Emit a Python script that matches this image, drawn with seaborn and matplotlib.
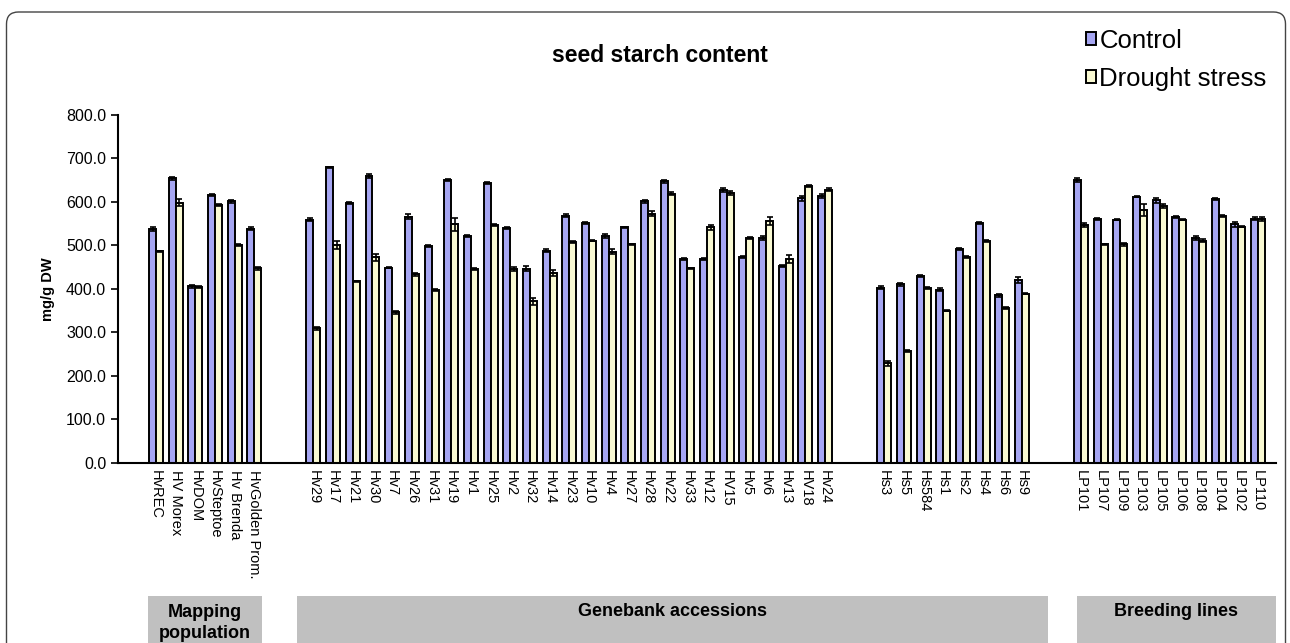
import matplotlib
matplotlib.use("Agg")
import matplotlib.pyplot as plt
import matplotlib.transforms as mtransforms
from matplotlib.patches import FancyBboxPatch, Rectangle
import numpy as np
import pandas as pd
import seaborn as sns

# --- data (mg/g DW) ---
mapping_lines = ["HvREC", "HV Morex", "HvDOM", "HvSteptoe", "Hv Brenda", "HvGolden Prom."]
mapping_control = [538, 654, 406, 616, 601, 538]
mapping_drought = [486, 598, 405, 593, 501, 447]
mapping_control_err = [4, 3, 3, 3, 4, 3]
mapping_drought_err = [2, 8, 2, 2, 2, 3]

genebank_lines = ["Hv29", "Hv17", "Hv21", "Hv30", "Hv7", "Hv26", "Hv31", "Hv19", "Hv1",
                  "Hv25", "Hv2", "Hv32", "Hv14", "Hv23", "Hv10", "Hv4", "Hv27", "Hv28",
                  "Hv22", "Hv33", "Hv12", "HV15", "Hv5", "Hv6", "Hv13", "HV18", "Hv24"]
genebank_control = [559, 679, 597, 659, 449, 566, 498, 650, 521, 643, 540, 446, 488, 568,
                    552, 522, 541, 601, 647, 468, 468, 627, 473, 517, 452, 608, 613]
genebank_drought = [309, 501, 417, 472, 346, 433, 397, 548, 445, 547, 446, 371, 436, 508,
                    511, 485, 502, 573, 619, 447, 541, 620, 517, 555, 468, 637, 628]
genebank_control_err = [3, 2, 2, 4, 2, 6, 2, 2, 2, 2, 3, 6, 3, 3,
                        2, 5, 2, 3, 4, 2, 2, 4, 2, 4, 2, 6, 4]
genebank_drought_err = [3, 10, 1, 8, 3, 3, 2, 14, 2, 2, 4, 8, 7, 3,
                        2, 6, 2, 5, 3, 2, 6, 5, 2, 9, 9, 2, 3]

hs_lines = ["Hs3", "Hs5", "Hs584", "Hs1", "Hs2", "Hs4", "Hs6", "Hs9"]
hs_control = [403, 410, 429, 398, 491, 551, 385, 421]
hs_drought = [229, 257, 402, 350, 473, 510, 356, 389]
hs_control_err = [3, 3, 2, 3, 2, 2, 3, 7]
hs_drought_err = [6, 2, 2, 2, 2, 3, 2, 2]

lp_lines = ["LP101", "LP107", "LP109", "LP103", "LP105", "LP106", "LP108", "LP104", "LP102", "LP110"]
lp_control = [650, 561, 559, 612, 603, 565, 517, 606, 548, 561]
lp_drought = [546, 502, 502, 581, 591, 559, 511, 568, 543, 560]
lp_control_err = [5, 2, 2, 2, 6, 3, 5, 2, 5, 3]
lp_drought_err = [5, 2, 4, 14, 5, 2, 4, 2, 2, 4]

treatments = ["Control", "Drought stress"]
colors = {"Control": "#9999ff", "Drought stress": "#ffffcc"}

# empty slots between the groups
order = (mapping_lines + ["_g1", "_g2"] + genebank_lines + ["_g3", "_g4"]
         + hs_lines + ["_g5", "_g6"] + lp_lines)

lines = mapping_lines + genebank_lines + hs_lines + lp_lines
control = mapping_control + genebank_control + hs_control + lp_control
drought = mapping_drought + genebank_drought + hs_drought + lp_drought
control_err = mapping_control_err + genebank_control_err + hs_control_err + lp_control_err
drought_err = mapping_drought_err + genebank_drought_err + hs_drought_err + lp_drought_err

df = pd.DataFrame({
    "line": lines * 2,
    "treatment": ["Control"] * len(lines) + ["Drought stress"] * len(lines),
    "starch": control + drought,
    "err": control_err + drought_err,
})

sns.set_style("white")
plt.rcParams["font.family"] = ["Liberation Sans", "DejaVu Sans"]
plt.rcParams.update({"text.color": "black", "axes.labelcolor": "black",
                     "xtick.color": "black", "ytick.color": "black"})

fig = plt.figure(figsize=(12.9, 6.43), dpi=100)
ax = fig.add_axes([0.0915, 0.28, 0.8975, 0.5416])

sns.barplot(data=df, x="line", y="starch", hue="treatment", order=order,
            hue_order=treatments, palette=colors, edgecolor="black", linewidth=1.4,
            width=0.71, errorbar=None, ax=ax)

# error bars on top of each bar
err_lookup = {(order.index(r.line), r.treatment): r.err for r in df.itertuples()}
for p in ax.patches:
    if p.get_height() <= 0:
        continue
    cx = p.get_x() + p.get_width() / 2
    idx = int(round(cx))
    trt = "Control" if cx < idx else "Drought stress"
    ax.errorbar(cx, p.get_height(), yerr=err_lookup[(idx, trt)], fmt="none",
                ecolor="black", elinewidth=1.2, capsize=2.5, capthick=1.2)

ax.set_xlim(-1.93, 56.9)
ax.set_ylim(0, 800)
ax.set_yticks(np.arange(0, 801, 100))
ax.set_yticklabels([f"{v:.1f}" for v in np.arange(0, 801, 100)], fontsize=11.5)
ax.set_xticks(range(len(order)))
ax.set_xticklabels(["" if n.startswith("_g") else n for n in order],
                   rotation=-90, fontsize=10.5, va="top", ha="center")
ax.set_xticks(np.arange(-0.5, len(order), 1), minor=True)
ax.tick_params(axis="x", which="major", length=0, pad=5)
ax.tick_params(axis="x", which="minor", length=5, width=1.2, direction="out", color="black")
ax.tick_params(axis="y", length=5, width=1.2, direction="out", color="black", left=True)

for side in ["top", "right"]:
    ax.spines[side].set_visible(False)
for side in ["left", "bottom"]:
    ax.spines[side].set_color("black")
    ax.spines[side].set_linewidth(1.5)

ax.set_xlabel("")
ax.set_ylabel("mg/g DW", fontsize=10.5, fontweight="bold", labelpad=8)

# legend in the top right corner
handles, labels = ax.get_legend_handles_labels()
ax.get_legend().remove()
fig.legend(handles, labels, loc="upper left", bbox_to_anchor=(1086 / 1290, 1 - 29 / 643),
           frameon=False, fontsize=18.5, handlelength=0.4, handleheight=0.4,
           handletextpad=0.12, labelspacing=0.55, borderpad=0, borderaxespad=0)

fig.text(660 / 1290, 1 - 56 / 643, "seed starch content", ha="center", va="center",
         fontsize=16.5, fontweight="bold")

# grey group boxes under the tick labels
blend = mtransforms.blended_transform_factory(ax.transData, fig.transFigure)
box_top = 1 - 596 / 643
groups = [
    ("Mapping\npopulation", order.index(mapping_lines[0]) - 0.4, order.index(mapping_lines[-1]) + 0.4),
    ("Genebank accessions", order.index(genebank_lines[0]) - 0.85, order.index(hs_lines[-1]) + 1.3),
    ("Breeding lines", order.index(lp_lines[0]) - 0.2, 56.9),
]
for name, x0, x1 in groups:
    fig.add_artist(Rectangle((x0, -0.01), x1 - x0, box_top + 0.01, transform=blend,
                             facecolor="#c0c0c0", edgecolor="none"))
    if "\n" in name:
        fig.text((x0 + x1) / 2, 1 - 623 / 643, name, transform=blend, ha="center", va="center",
                 fontsize=13, fontweight="bold", linespacing=1.25)
    else:
        fig.text((x0 + x1) / 2, 1 - 612 / 643, name, transform=blend, ha="center", va="center",
                 fontsize=13, fontweight="bold")

# rounded frame around the figure
fig.add_artist(FancyBboxPatch((0.065, -0.5), 12.79, 6.81, boxstyle="round,pad=0,rounding_size=0.12",
                              transform=fig.dpi_scale_trans, fill=False, edgecolor="#444444", lw=1))

fig.savefig("out.png", dpi=100)
